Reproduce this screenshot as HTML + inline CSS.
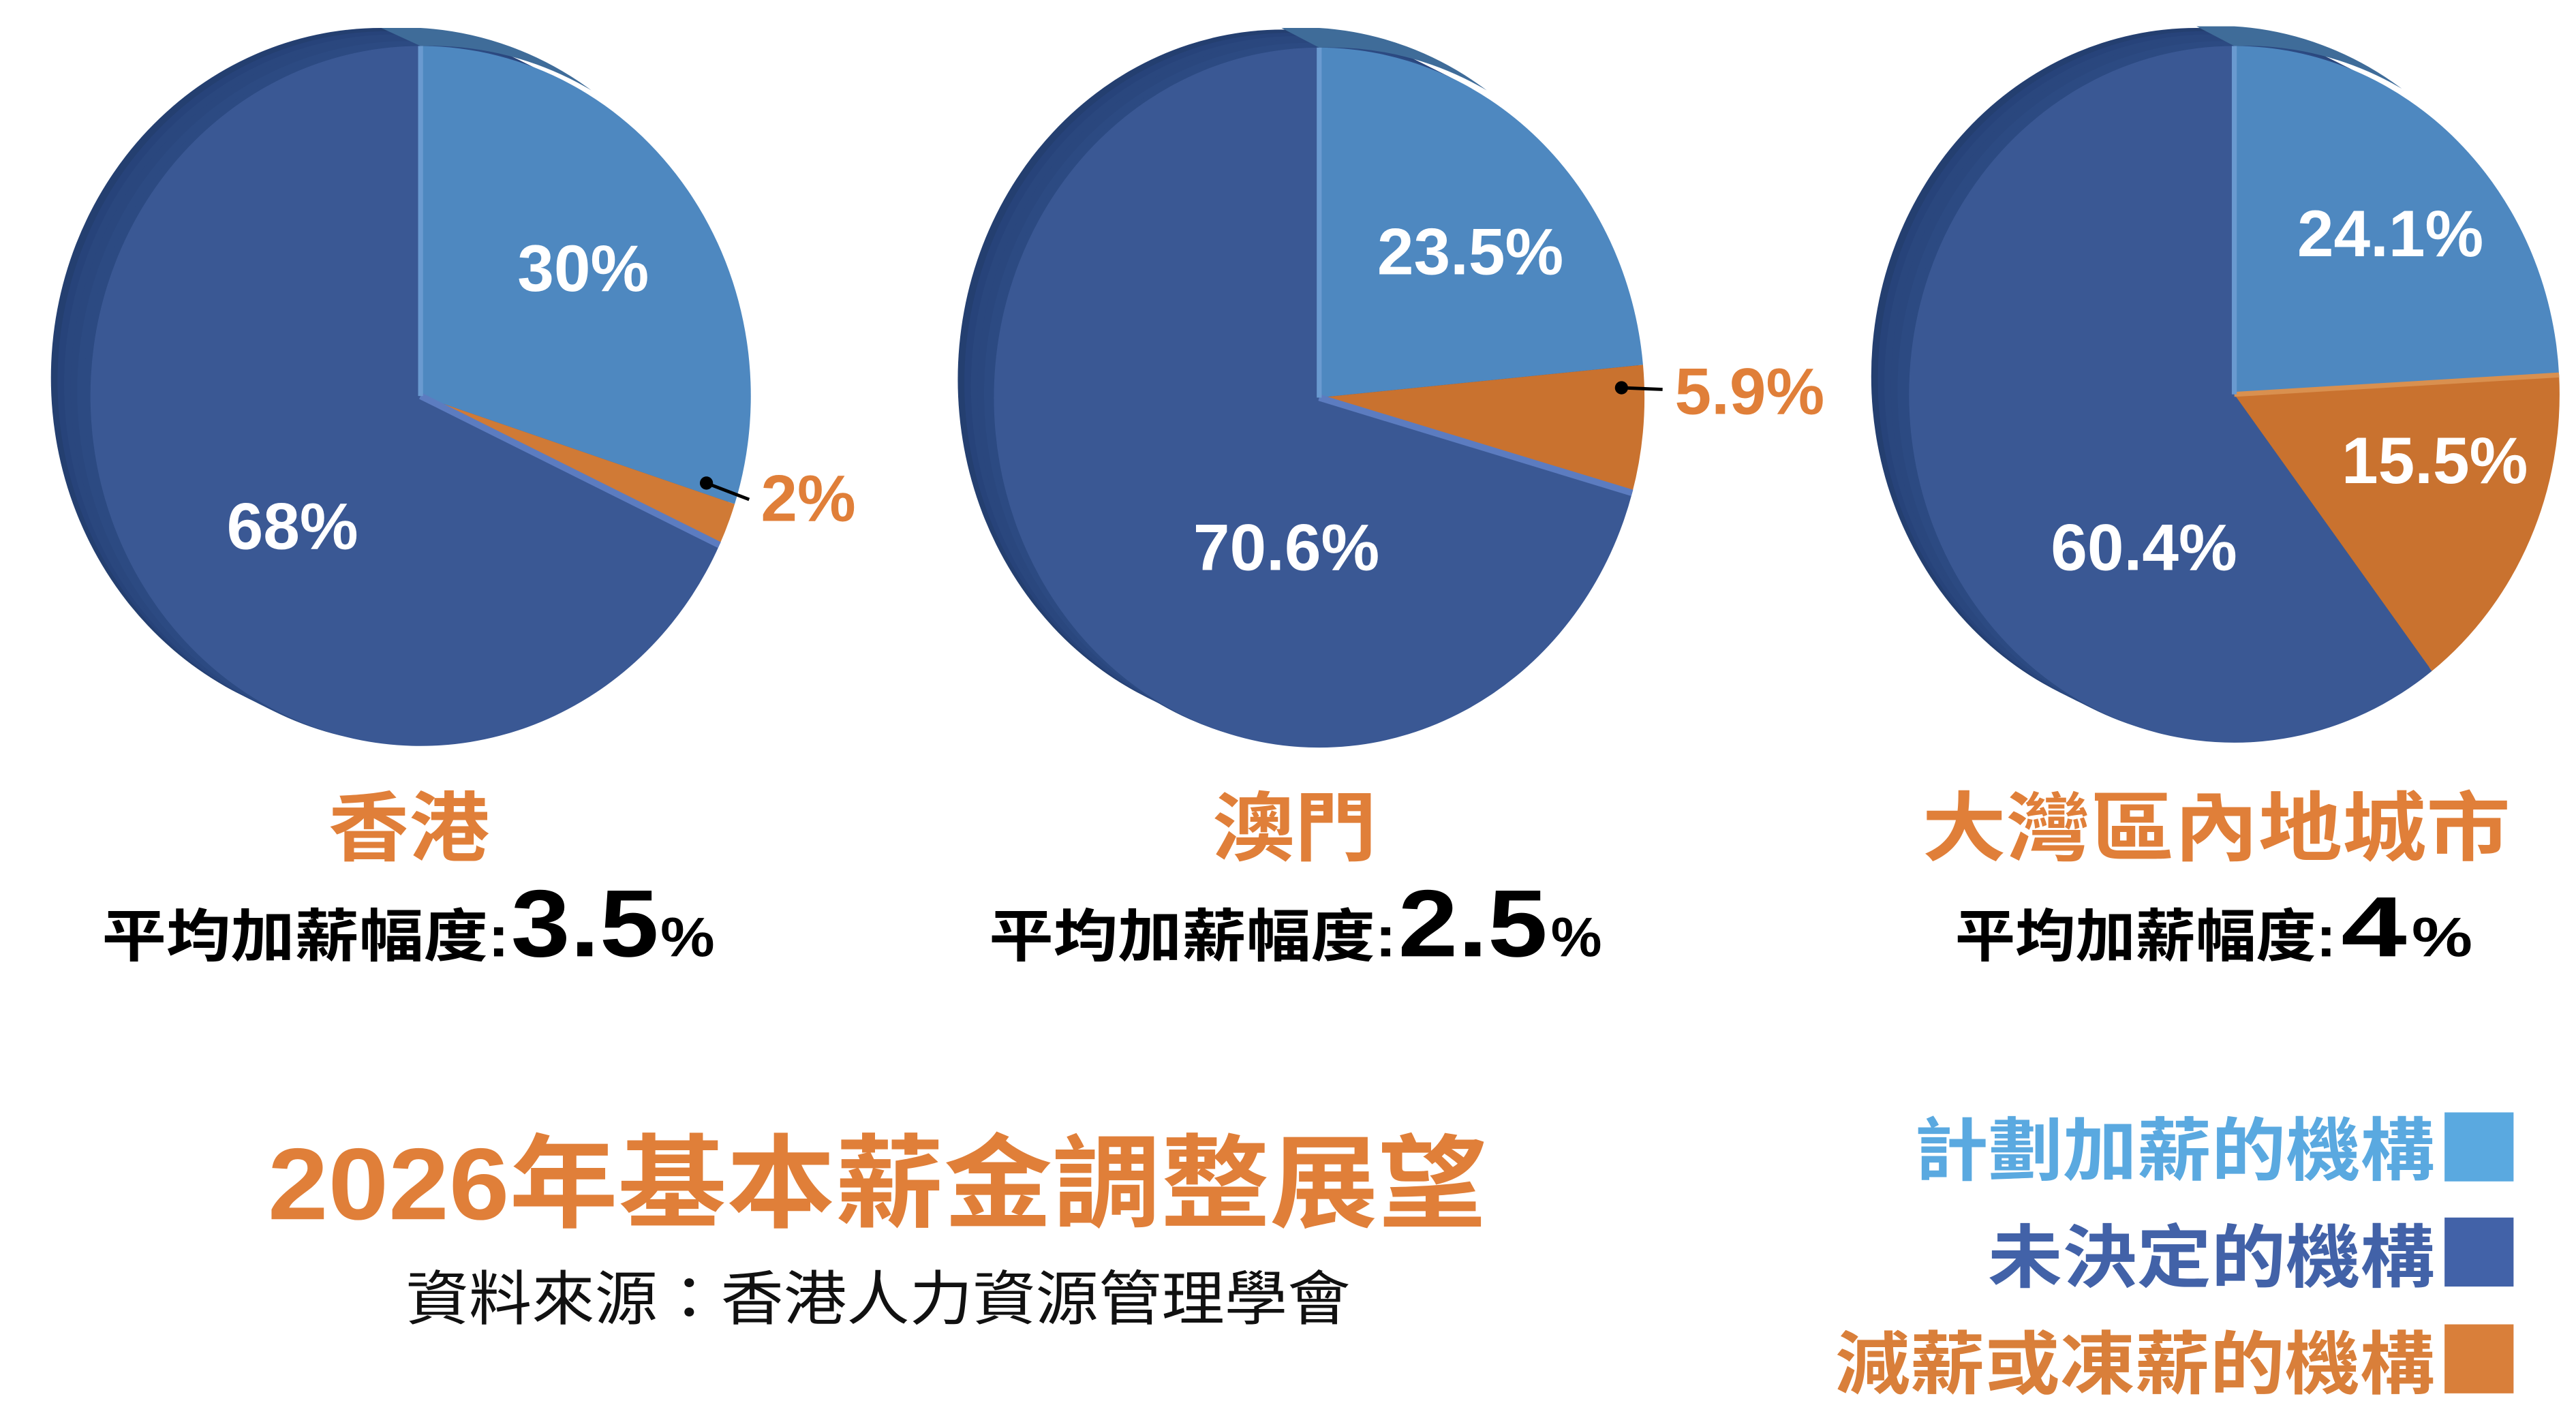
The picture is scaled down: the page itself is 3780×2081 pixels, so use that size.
<!DOCTYPE html>
<html><head><meta charset="utf-8"><style>
html,body{margin:0;padding:0;background:#fff;width:3780px;height:2081px;overflow:hidden}
svg{display:block}
text{font-family:"Liberation Sans","Noto Sans CJK TC",sans-serif;font-weight:bold}
</style></head><body>
<svg width="3780" height="2081" viewBox="0 0 1568 863" preserveAspectRatio="none">
<!-- Pie 1 -->
<g>
<ellipse cx="232" cy="230" rx="201" ry="213" fill="#243f70"/>
<ellipse cx="236" cy="232" rx="201" ry="213" fill="#27437a"/>
<ellipse cx="240" cy="234" rx="201" ry="213" fill="#2a477e"/>
<ellipse cx="244" cy="236" rx="201" ry="213" fill="#2a477e"/>
<ellipse cx="248" cy="238" rx="201" ry="213" fill="#2c4a82"/>
<ellipse cx="252" cy="240" rx="201" ry="213" fill="#2c4a82"/>
<path d="M256,17 L232,17 L256,28 A201,213 0 0 1 360,55 A201,213 0 0 0 256,17 Z" fill="#3f6c99"/>
<path d="M256,241 L437.9,331.7 A201,213 0 1 1 256,28 Z" fill="#3a5894"/>
<path d="M256,241 L256,28 A201,213 0 0 1 447.2,306.8 Z" fill="#4e88c0"/>
<path d="M256,241 L447.2,306.8 A201,213 0 0 1 437.9,331.7 Z" fill="#d07a36"/>
<path d="M256,241 L437.9,331.7" stroke="#5c7cc0" stroke-width="4"/>
<path d="M256,241 L256,28" stroke="#6a9ad0" stroke-width="3"/>
<line x1="430" y1="294" x2="456" y2="304" stroke="#000" stroke-width="2"/>
<circle cx="430" cy="294" r="4" fill="#000"/>
<text x="355" y="177" font-size="40" fill="#fff" text-anchor="middle">30%</text>
<text x="178" y="334" font-size="40" fill="#fff" text-anchor="middle">68%</text>
<text x="492" y="317" font-size="40" fill="#e07f39" text-anchor="middle">2%</text>
</g>
<!-- Pie 2 -->
<g>
<ellipse cx="781" cy="231" rx="198" ry="213" fill="#243f70"/>
<ellipse cx="785" cy="233" rx="198" ry="213" fill="#27437a"/>
<ellipse cx="789" cy="235" rx="198" ry="213" fill="#2a477e"/>
<ellipse cx="793" cy="237" rx="198" ry="213" fill="#2a477e"/>
<ellipse cx="797" cy="239" rx="198" ry="213" fill="#2c4a82"/>
<ellipse cx="800" cy="241" rx="198" ry="213" fill="#2c4a82"/>
<path d="M803,17 L780,17 L803,29 A198,213 0 0 1 905,55 A198,213 0 0 0 803,17 Z" fill="#3f6c99"/>
<path d="M803,242 L993.5,300 A198,213 0 1 1 803,29 Z" fill="#3a5894"/>
<path d="M803,242 L803,29 A198,213 0 0 1 1000.1,222 Z" fill="#4e88c0"/>
<path d="M803,242 L1000.1,222 A198,213 0 0 1 993.5,300 Z" fill="#c9722f"/>
<path d="M803,242 L993.5,300" stroke="#5c7cc0" stroke-width="4"/>
<path d="M803,242 L803,29" stroke="#6a9ad0" stroke-width="3"/>
<line x1="987" y1="236" x2="1012" y2="237" stroke="#000" stroke-width="2"/>
<circle cx="987" cy="236" r="4" fill="#000"/>
<text x="895" y="167" font-size="40" fill="#fff" text-anchor="middle">23.5%</text>
<text x="783" y="347" font-size="40" fill="#fff" text-anchor="middle">70.6%</text>
<text x="1065" y="252" font-size="40" fill="#e07f39" text-anchor="middle">5.9%</text>
</g>
<!-- Pie 3 -->
<g>
<ellipse cx="1337" cy="229" rx="198" ry="212" fill="#243f70"/>
<ellipse cx="1341" cy="231" rx="198" ry="212" fill="#27437a"/>
<ellipse cx="1345" cy="233" rx="198" ry="212" fill="#2a477e"/>
<ellipse cx="1349" cy="235" rx="198" ry="212" fill="#2a477e"/>
<ellipse cx="1353" cy="237" rx="198" ry="212" fill="#2c4a82"/>
<ellipse cx="1357" cy="239" rx="198" ry="212" fill="#2c4a82"/>
<path d="M1360,16 L1337,16 L1360,28 A198,212 0 0 1 1462,54 A198,212 0 0 0 1360,16 Z" fill="#3f6c99"/>
<path d="M1360,240 L1480.3,408.4 A198,212 0 1 1 1360,28 Z" fill="#3a5894"/>
<path d="M1360,240 L1360,28 A198,212 0 0 1 1557.7,228.2 Z" fill="#4e88c0"/>
<path d="M1360,240 L1557.7,228.2 A198,212 0 0 1 1480.3,408.4 Z" fill="#c9722f"/>
<path d="M1360,240 L1557.7,228.2" stroke="#d9904f" stroke-width="3"/>
<path d="M1360,240 L1360,28" stroke="#6a9ad0" stroke-width="3"/>
<text x="1455" y="156" font-size="40" fill="#fff" text-anchor="middle">24.1%</text>
<text x="1482" y="294" font-size="40" fill="#fff" text-anchor="middle">15.5%</text>
<text x="1305" y="347" font-size="40" fill="#fff" text-anchor="middle">60.4%</text>
</g>
<!-- Region titles -->
<text x="200" y="520" font-size="46" fill="#e07f39" textLength="98" lengthAdjust="spacingAndGlyphs">香港</text>
<text x="738" y="520" font-size="46" fill="#e07f39" textLength="100" lengthAdjust="spacingAndGlyphs">澳門</text>
<text x="1170" y="520" font-size="46" fill="#e07f39" textLength="358" lengthAdjust="spacingAndGlyphs">大灣區內地城市</text>
<!-- Subtitles -->
<text x="62" y="582" font-size="35" fill="#000" textLength="248" lengthAdjust="spacingAndGlyphs">平均加薪幅度:</text>
<text x="311" y="582" font-size="58" fill="#000" textLength="90" lengthAdjust="spacingAndGlyphs">3.5</text>
<text x="402" y="582" font-size="34" fill="#000" textLength="33" lengthAdjust="spacingAndGlyphs">%</text>
<text x="602" y="582" font-size="35" fill="#000" textLength="248" lengthAdjust="spacingAndGlyphs">平均加薪幅度:</text>
<text x="851" y="582" font-size="58" fill="#000" textLength="91" lengthAdjust="spacingAndGlyphs">2.5</text>
<text x="944" y="582" font-size="34" fill="#000" textLength="31" lengthAdjust="spacingAndGlyphs">%</text>
<text x="1190" y="582" font-size="35" fill="#000" textLength="232" lengthAdjust="spacingAndGlyphs">平均加薪幅度:</text>
<text x="1425" y="582" font-size="52" fill="#000" textLength="40" lengthAdjust="spacingAndGlyphs">4</text>
<text x="1468" y="582" font-size="34" fill="#000" textLength="37" lengthAdjust="spacingAndGlyphs">%</text>
<!-- Title -->
<text x="163" y="742" font-size="62" fill="#e07f39" textLength="742" lengthAdjust="spacingAndGlyphs">2026年基本薪金調整展望</text>
<text x="247" y="803" font-size="36" fill="#111" style="font-weight:normal" textLength="575" lengthAdjust="spacingAndGlyphs">資料來源：香港人力資源管理學會</text>
<!-- Legend -->
<text x="1165" y="715" font-size="42" fill="#5aa9e0" textLength="317" lengthAdjust="spacingAndGlyphs">計劃加薪的機構</text>
<rect x="1488" y="677" width="42" height="42" fill="#5aa9e0"/>
<text x="1210" y="780" font-size="42" fill="#4262a8" textLength="272" lengthAdjust="spacingAndGlyphs">未決定的機構</text>
<rect x="1488" y="741" width="42" height="42" fill="#4262a8"/>
<text x="1117" y="845" font-size="42" fill="#d97f3a" textLength="365" lengthAdjust="spacingAndGlyphs">減薪或凍薪的機構</text>
<rect x="1488" y="806" width="42" height="42" fill="#d97f3a"/>
</svg>
</body></html>
